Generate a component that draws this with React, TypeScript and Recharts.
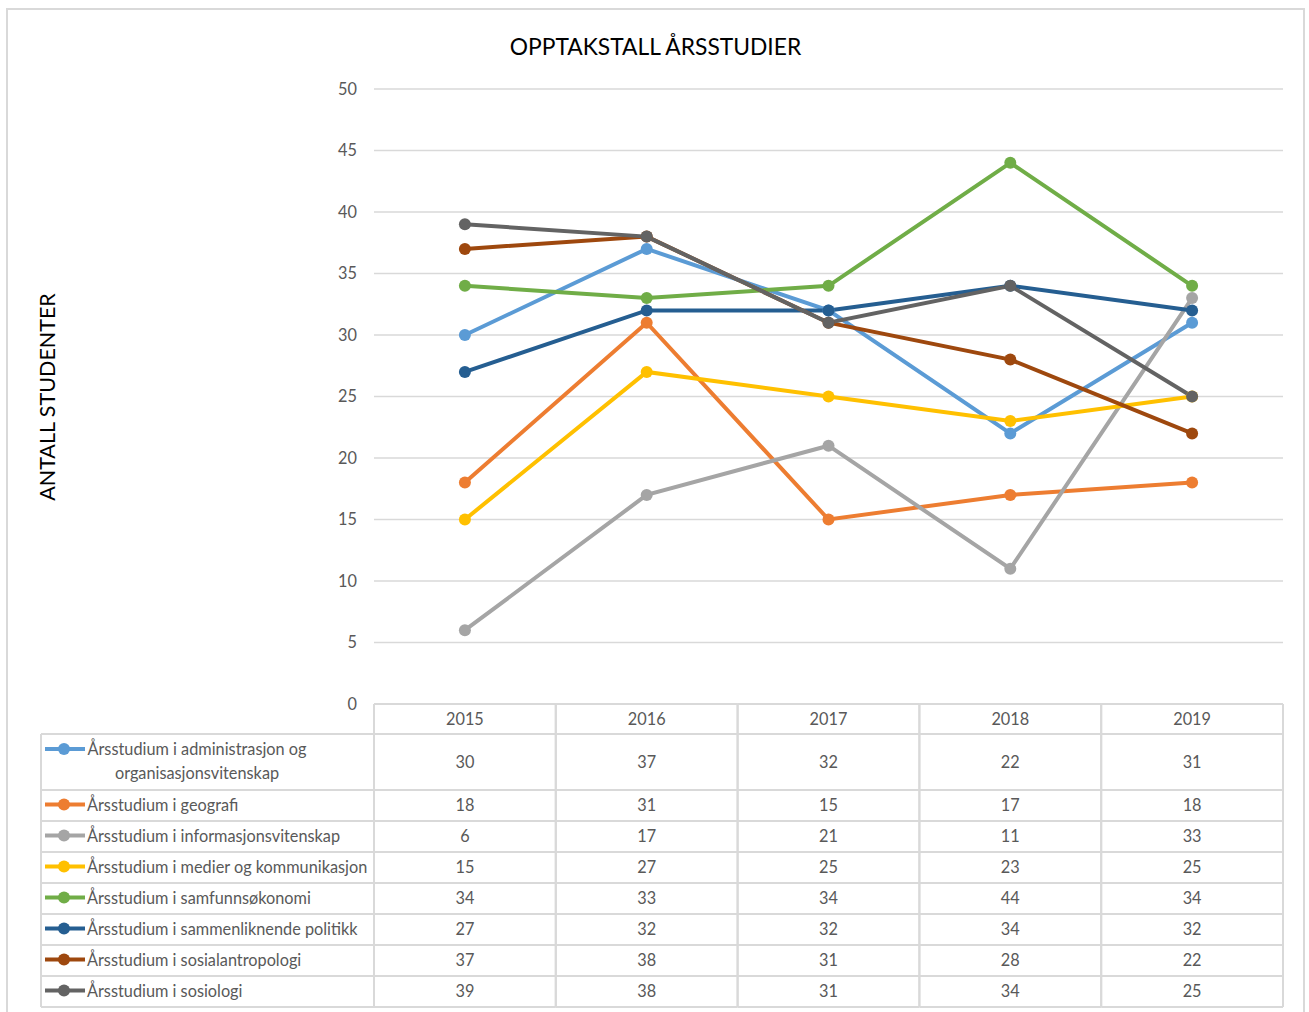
import React from 'react';
import { LineChart, Line, XAxis, YAxis, CartesianGrid } from 'recharts';

const years = ['2015', '2016', '2017', '2018', '2019'];
const seriesNames = [
  'Årsstudium i administrasjon og organisasjonsvitenskap',
  'Årsstudium i geografi',
  'Årsstudium i informasjonsvitenskap',
  'Årsstudium i medier og kommunikasjon',
  'Årsstudium i samfunnsøkonomi',
  'Årsstudium i sammenliknende politikk',
  'Årsstudium i sosialantropologi',
  'Årsstudium i sosiologi',
];
const administrasjon = [30, 37, 32, 22, 31];
const geografi = [18, 31, 15, 17, 18];
const informasjon = [6, 17, 21, 11, 33];
const medier = [15, 27, 25, 23, 25];
const samfunn = [34, 33, 34, 44, 34];
const sammenliknende = [27, 32, 32, 34, 32];
const sosialantropologi = [37, 38, 31, 28, 22];
const sosiologi = [39, 38, 31, 34, 25];
const seriesValues = [administrasjon, geografi, informasjon, medier, samfunn, sammenliknende, sosialantropologi, sosiologi];
const colors = ['#5B9BD5', '#ED7D31', '#A5A5A5', '#FFC000', '#70AD47', '#255E91', '#9E480E', '#636363'];
const yTicks = [0, 5, 10, 15, 20, 25, 30, 35, 40, 45, 50];

const data = years.map((y, i) => {
  const row: any = { year: y };
  seriesValues.forEach((vals, s) => { row['s' + s] = vals[i]; });
  return row;
});

const W = 1309;
const H = 1012;
const M = { top: 89, right: 26, left: 314, bottom: 0 };
const Y_AXIS_W = 60;
const X_AXIS_H = 308;
const PLOT_W = W - M.left - Y_AXIS_W - M.right;
const FONT = 'Lato, "Open Sans", sans-serif';
const TXT = '#595959';
const GRID = '#d9d9d9';
const HEADER_H = 30;
const ROW_H = [56, 31, 31, 31, 31, 31, 31, 31];
const LEGEND_LEFT = 41;
const FS = 16.3;

const TableColumn = (props: any) => {
  const { x, y, payload, index } = props;
  const bw = PLOT_W / years.length;
  const left = x - bw / 2;
  const right = x + bw / 2;
  const rowTops: number[] = [];
  let acc = y + HEADER_H;
  ROW_H.forEach((h) => { rowTops.push(acc); acc += h; });
  const bottom = acc;
  const els: any[] = [];
  els.push(<line key="vl" x1={left} x2={left} y1={y} y2={bottom} stroke={GRID} strokeWidth={2} />);
  els.push(<line key="vr" x1={right} x2={right} y1={y} y2={bottom} stroke={GRID} strokeWidth={2} />);
  els.push(<line key="ht" x1={left} x2={right} y1={y} y2={y} stroke={GRID} strokeWidth={2} />);
  rowTops.forEach((t, r) => {
    els.push(<line key={'h' + r} x1={left} x2={right} y1={t} y2={t} stroke={GRID} strokeWidth={2} />);
  });
  els.push(<line key="hb" x1={left} x2={right} y1={bottom} y2={bottom} stroke={GRID} strokeWidth={2} />);
  els.push(
    <text key="yr" x={x} y={y + HEADER_H / 2 - 1} textAnchor="middle" dominantBaseline="central" fill={TXT} fontSize={FS} fontFamily={FONT}>
      {payload.value}
    </text>
  );
  seriesValues.forEach((vals, s) => {
    els.push(
      <text key={'v' + s} x={x} y={rowTops[s] + ROW_H[s] / 2 - 1} textAnchor="middle" dominantBaseline="central" fill={TXT} fontSize={FS} fontFamily={FONT}>
        {vals[index]}
      </text>
    );
  });
  if (index === 0) {
    const lx = LEGEND_LEFT;
    els.push(<line key="lv" x1={lx} x2={lx} y1={rowTops[0]} y2={bottom} stroke={GRID} strokeWidth={2} />);
    rowTops.forEach((t, r) => {
      els.push(<line key={'lh' + r} x1={lx} x2={left} y1={t} y2={t} stroke={GRID} strokeWidth={2} />);
    });
    els.push(<line key="lhb" x1={lx} x2={left} y1={bottom} y2={bottom} stroke={GRID} strokeWidth={2} />);
    seriesNames.forEach((name, s) => {
      const t = rowTops[s];
      const h = ROW_H[s];
      const symY = s === 0 ? t + 15 : t + h / 2 - 1;
      els.push(<line key={'sl' + s} x1={lx + 4} x2={lx + 44} y1={symY} y2={symY} stroke={colors[s]} strokeWidth={4} />);
      els.push(<circle key={'sc' + s} cx={lx + 23} cy={symY} r={6} fill={colors[s]} />);
      if (s === 0) {
        els.push(
          <text key={'lt' + s} x={197} y={t + 14} textAnchor="middle" dominantBaseline="central" fill={TXT} fontSize={FS} fontFamily={FONT}>
            Årsstudium i administrasjon og
          </text>
        );
        els.push(
          <text key={'lt2' + s} x={197} y={t + 38} textAnchor="middle" dominantBaseline="central" fill={TXT} fontSize={FS} fontFamily={FONT}>
            organisasjonsvitenskap
          </text>
        );
      } else {
        els.push(
          <text key={'lt' + s} x={lx + 46} y={symY} textAnchor="start" dominantBaseline="central" fill={TXT} fontSize={FS} fontFamily={FONT}>
            {name}
          </text>
        );
      }
    });
  }
  return <g>{els}</g>;
};

export default function App() {
  return (
    <div style={{ position: 'absolute', left: 0, top: 0, width: W, height: H, overflow: 'hidden', background: '#fff' }}>
      <div style={{ position: 'absolute', left: 6, top: 8, width: 1295, height: 1100, border: '2px solid #d9d9d9' }} />
      <div style={{ position: 'absolute', left: 0, top: 30, width: W + 2, textAlign: 'center', fontFamily: FONT, fontSize: 22.8, color: '#000', lineHeight: '32px' }}>
        OPPTAKSTALL ÅRSSTUDIER
      </div>
      <svg style={{ position: 'absolute', left: 0, top: 0 }} width={100} height={H}>
        <text x={47} y={397} transform="rotate(-90 47 397)" textAnchor="middle" dominantBaseline="central" fontFamily={FONT} fontSize={21.5} fill="#000">
          ANTALL STUDENTER
        </text>
      </svg>
      <div style={{ position: 'absolute', left: 0, top: 0 }}>
        <LineChart width={W} height={H} data={data} margin={M}>
          <CartesianGrid vertical={false} stroke={GRID} strokeWidth={1.5} />
          <XAxis
            dataKey="year"
            scale="band"
            height={X_AXIS_H}
            axisLine={false}
            tickLine={false}
            tickSize={0}
            tickMargin={0}
            interval={0}
            tick={<TableColumn />}
          />
          <YAxis
            width={Y_AXIS_W}
            domain={[0, 50]}
            ticks={yTicks}
            axisLine={false}
            tickLine={false}
            tickSize={0}
            tickMargin={17}
            tick={{ fill: TXT, fontSize: FS, fontFamily: FONT }}
          />
          {seriesNames.map((n, s) => (
            <Line
              key={n}
              dataKey={'s' + s}
              name={n}
              stroke={colors[s]}
              strokeWidth={4}
              dot={{ r: 6, fill: colors[s], stroke: colors[s], strokeWidth: 0 }}
              activeDot={false}
              isAnimationActive={false}
            />
          ))}
        </LineChart>
      </div>
    </div>
  );
}
